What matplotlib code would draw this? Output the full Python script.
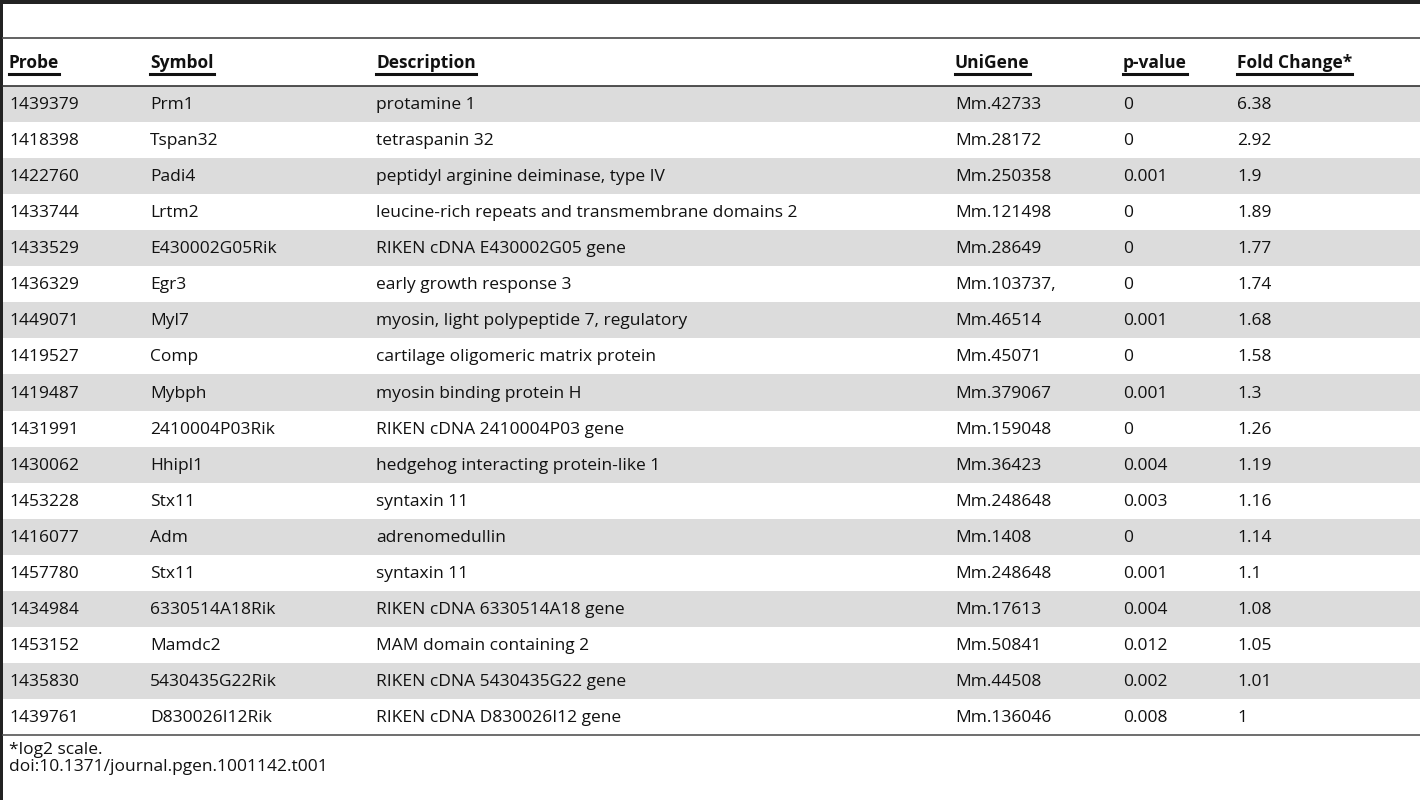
import matplotlib
matplotlib.use("Agg")
import matplotlib.pyplot as plt
from matplotlib.patches import Rectangle
from matplotlib.lines import Line2D

headers = ["Probe", "Symbol", "Description", "UniGene", "p-value", "Fold Change*"]
probe = ["1439379","1418398","1422760","1433744","1433529","1436329","1449071","1419527","1419487",
         "1431991","1430062","1453228","1416077","1457780","1434984","1453152","1435830","1439761"]
symbol = ["Prm1","Tspan32","Padi4","Lrtm2","E430002G05Rik","Egr3","Myl7","Comp","Mybph",
          "2410004P03Rik","Hhipl1","Stx11","Adm","Stx11","6330514A18Rik","Mamdc2","5430435G22Rik","D830026I12Rik"]
description = ["protamine 1","tetraspanin 32","peptidyl arginine deiminase, type IV",
               "leucine-rich repeats and transmembrane domains 2","RIKEN cDNA E430002G05 gene",
               "early growth response 3","myosin, light polypeptide 7, regulatory",
               "cartilage oligomeric matrix protein","myosin binding protein H",
               "RIKEN cDNA 2410004P03 gene","hedgehog interacting protein-like 1","syntaxin 11",
               "adrenomedullin","syntaxin 11","RIKEN cDNA 6330514A18 gene","MAM domain containing 2",
               "RIKEN cDNA 5430435G22 gene","RIKEN cDNA D830026I12 gene"]
unigene = ["Mm.42733","Mm.28172","Mm.250358","Mm.121498","Mm.28649","Mm.103737,","Mm.46514","Mm.45071",
           "Mm.379067","Mm.159048","Mm.36423","Mm.248648","Mm.1408","Mm.248648","Mm.17613","Mm.50841",
           "Mm.44508","Mm.136046"]
pvalue = ["0","0","0.001","0","0","0","0.001","0","0.001","0","0.004","0.003","0","0.001","0.004",
          "0.012","0.002","0.008"]
fold = ["6.38","2.92","1.9","1.89","1.77","1.74","1.68","1.58","1.3","1.26","1.19","1.16","1.14",
        "1.1","1.08","1.05","1.01","1"]
footnotes = ["*log2 scale.", "doi:10.1371/journal.pgen.1001142.t001"]

W, H = 1420, 800
fig = plt.figure(figsize=(W/100, H/100), dpi=100)
ax = fig.add_axes([0, 0, 1, 1])
ax.set_xlim(0, W); ax.set_ylim(H, 0); ax.axis("off")
FONT = "Open Sans"
FS = 12.5
col_x = [9, 150, 376, 955, 1123, 1237]
cols = [probe, symbol, description, unigene, pvalue, fold]

# frame
ax.add_patch(Rectangle((0, 0), W, 3.5, color="#222222", lw=0))
ax.add_patch(Rectangle((0, 0), 3, H, color="#222222", lw=0))
ax.add_line(Line2D([3, W], [38, 38], color="#555555", lw=1.3))

# header
for x, h in zip(col_x, headers):
    t = ax.text(x, 63, h, fontsize=FS, fontweight="bold", family=FONT, va="center", ha="left", color="#111111")
fig.canvas.draw()
r = fig.canvas.get_renderer()
for t in ax.texts:
    bb = t.get_window_extent(r)
    ax.add_line(Line2D([bb.x0, bb.x1], [74, 74], color="#111111", lw=2.2))
ax.add_line(Line2D([3, W], [86, 86], color="#333333", lw=1.2))

top, rh = 86, 36.06
n = len(probe)
for i in range(n):
    y0 = top + i*rh
    if i % 2 == 0:
        ax.add_patch(Rectangle((3, y0), W-3, rh, color="#dcdcdc", lw=0, zorder=0))
    for x, c in zip(col_x, cols):
        ax.text(x, y0 + rh/2 + 1, c[i], fontsize=FS, family=FONT, va="center", ha="left", color="#111111")
ax.add_line(Line2D([3, W], [top + n*rh, top + n*rh], color="#555555", lw=1.2))

ax.text(9, 750, footnotes[0], fontsize=FS, family=FONT, va="center", color="#111111")
ax.text(9, 767, footnotes[1], fontsize=FS, family=FONT, va="center", color="#111111")
fig.savefig("out.png", dpi=100)
